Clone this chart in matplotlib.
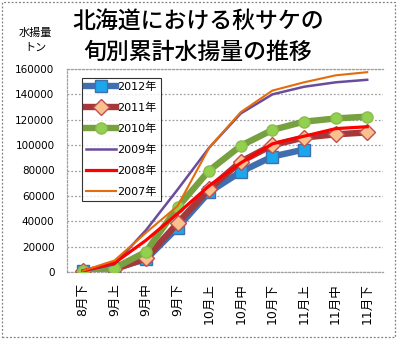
import matplotlib
matplotlib.use("Agg")
import matplotlib.pyplot as plt
from matplotlib.patches import Rectangle

plt.rcParams['font.family'] = ['Noto Sans CJK JP', 'DejaVu Sans']
WIDE = ['DejaVu Sans', 'Noto Sans CJK JP']

categories = ['8月下', '9月上', '9月中', '9月下', '10月上', '10月中', '10月下', '11月上', '11月中', '11月下']
y2012 = [500, 3000, 10000, 35000, 63000, 79000, 91000, 96500]
y2011 = [500, 2000, 11000, 38500, 65500, 87000, 100000, 106000, 108500, 110000]
y2010 = [500, 3000, 16000, 51000, 80000, 99500, 112000, 118500, 121000, 122500]
y2009 = [500, 6000, 33000, 65000, 98000, 125000, 140000, 146000, 149500, 151500]
y2008 = [1000, 7000, 25000, 46000, 68000, 86000, 101000, 107000, 113000, 114500]
y2007 = [1000, 9000, 31000, 52000, 98000, 126000, 143000, 149500, 155000, 157500]
yticks = [0, 20000, 40000, 60000, 80000, 100000, 120000, 140000, 160000]

fig = plt.figure(figsize=(3.97, 3.39), dpi=100)
ax = fig.add_axes([67/397, 1-272/339, (383-67)/397, (272-69)/339])

x = list(range(len(categories)))

ax.plot(x[:len(y2012)], y2012, color='#3F6FAF', lw=4.6, marker='s', ms=9,
        mfc='#1AA7EC', mec='#3F6FAF', mew=1, label='2012年', zorder=3)
ax.plot(x, y2011, color='#A5383A', lw=4.6, marker='D', ms=8,
        mfc='#FAC090', mec='#C0504D', mew=1, label='2011年', zorder=4)
ax.plot(x, y2010, color='#77A040', lw=4.6, marker='o', ms=8,
        mfc='#92D050', mec='#8DBB4E', mew=1, label='2010年', zorder=5)
ax.plot(x, y2009, color='#6A4C9C', lw=1.8, label='2009年', zorder=6)
ax.plot(x, y2008, color='#FF0000', lw=2.3, label='2008年', zorder=7)
ax.plot(x, y2007, color='#E46C0A', lw=1.5, label='2007年', zorder=8)

ax.set_xlim(-0.5, len(categories) - 0.5)
ax.set_ylim(0, 160000)
ax.set_yticks(yticks)
ax.set_yticklabels([str(v) for v in yticks], fontsize=7.5, family=WIDE)
ax.set_xticks(x)
ax.set_xticklabels(categories, rotation=90, fontsize=9, family=WIDE)
ax.tick_params(axis='both', length=0)
ax.tick_params(axis='x', pad=8)
ax.tick_params(axis='y', pad=9)
ax.grid(axis='y', color='#A0A0A0', linestyle=(0, (1.5, 1.5)), lw=0.9)
ax.set_axisbelow(True)
for s in ['left', 'bottom', 'top']:
    ax.spines[s].set_color('#A0A0A0')
    ax.spines[s].set_linestyle((0, (1.5, 1.5)))
    ax.spines[s].set_linewidth(0.9)
ax.spines['right'].set_visible(False)

leg = ax.legend(loc='upper left', bbox_to_anchor=((82-67)/316, 1-(78-69)/203),
                prop={'family': WIDE, 'size': 8}, frameon=True, fancybox=False,
                edgecolor='black', handlelength=2.7, handletextpad=0.15,
                labelspacing=0.95, borderpad=0.35, borderaxespad=0)
leg.get_frame().set_linewidth(0.8)
leg.set_zorder(20)

fig.text(198/397, 1-21/339, '北海道における秋サケの', ha='center', va='center',
         fontsize=16.5, fontweight='medium')
fig.text(198/397, 1-52/339, '旬別累計水揚量の推移', ha='center', va='center',
         fontsize=16.5, fontweight='medium')
fig.text(35/397, 1-33/339, '水揚量', ha='center', va='center', fontsize=8)
fig.text(35/397, 1-48/339, 'トン', ha='center', va='center', fontsize=8)

fig.patches.append(Rectangle((2/397, 2/339), 393/397, 335/339, transform=fig.transFigure,
                             fill=False, edgecolor='#808080', lw=0.9, linestyle=(0, (1.5, 1.5))))

fig.savefig('out.png', dpi=100)
